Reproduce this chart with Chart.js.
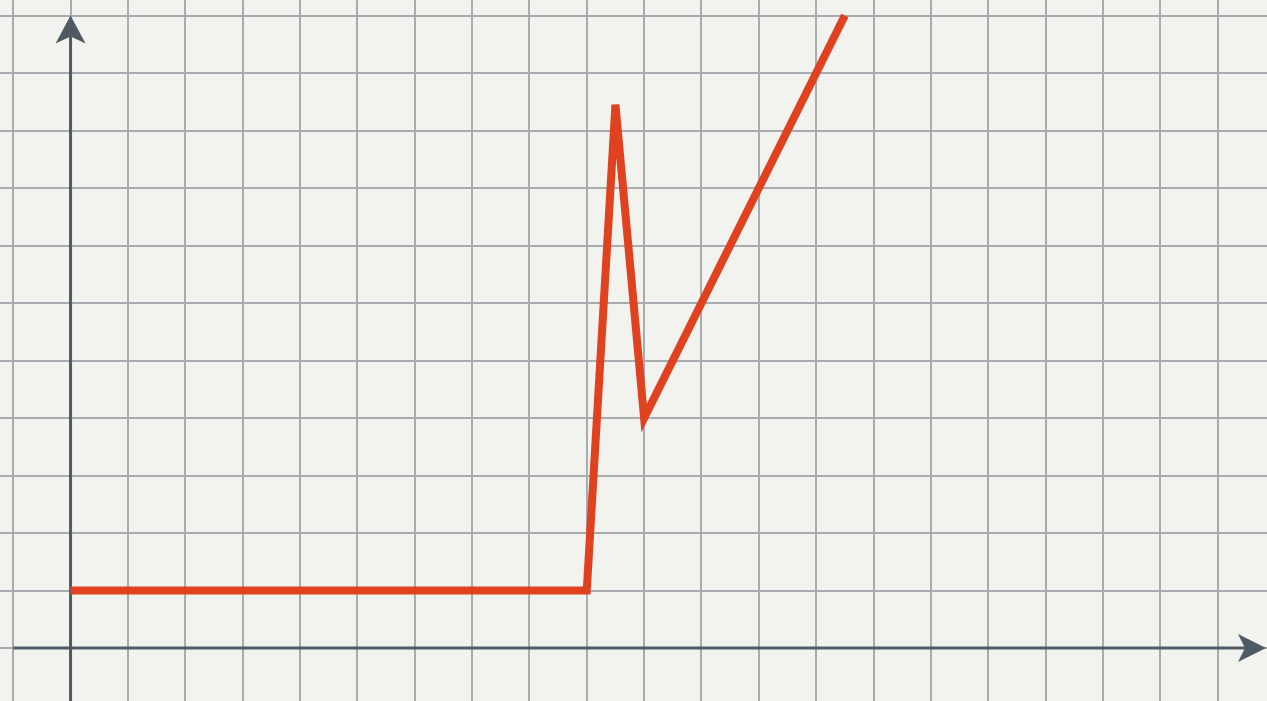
<!DOCTYPE html>
<html>
<head>
<meta charset="utf-8">
<script src="https://cdn.jsdelivr.net/npm/chart.js@4"></script>
<style>
  html, body { margin: 0; padding: 0; background: #f2f3ee; }
  #wrap { width: 1267px; height: 701px; }
</style>
</head>
<body>
<div id="wrap"><canvas id="sketchChart" width="1267" height="701"></canvas></div>
<script>
// grid units: one cell per step
const xs = [0, 9, 9.5, 10, 13.5];
const ys = [1, 1, 9.45, 4, 11];
const xRange = [-1.23, 20.86];
const yRange = [-0.92, 11.27];

const points = xs.map((x, i) => ({ x: x, y: ys[i] }));

// dark axes with arrowheads, drawn under the red line
const axesArrows = {
    id: 'axesArrows',
    beforeDatasetsDraw(chart) {
        const ctx = chart.ctx;
        const sx = chart.scales.x, sy = chart.scales.y;
        const ox = sx.getPixelForValue(0), oy = sy.getPixelForValue(0);
        const left = sx.getPixelForValue(-1);
        const right = chart.chartArea.right - 1;
        const top = sy.getPixelForValue(11);
        const bottom = chart.chartArea.bottom;
        ctx.save();
        ctx.strokeStyle = '#4f5a65';
        ctx.fillStyle = '#4f5a65';
        ctx.lineWidth = 3;
        ctx.beginPath();
        ctx.moveTo(left, oy);
        ctx.lineTo(right - 6, oy);
        ctx.moveTo(ox, bottom);
        ctx.lineTo(ox, top + 6);
        ctx.stroke();
        // up arrow
        ctx.beginPath();
        ctx.moveTo(ox, top);
        ctx.lineTo(ox + 15, top + 28);
        ctx.lineTo(ox, top + 21);
        ctx.lineTo(ox - 15, top + 28);
        ctx.closePath();
        ctx.fill();
        // right arrow
        ctx.beginPath();
        ctx.moveTo(right, oy);
        ctx.lineTo(right - 28, oy - 14);
        ctx.lineTo(right - 21, oy);
        ctx.lineTo(right - 28, oy + 14);
        ctx.closePath();
        ctx.fill();
        ctx.restore();
    }
};

new Chart(document.getElementById('sketchChart'), {
    type: 'scatter',
    data: {
        datasets: [{
            data: points,
            showLine: true,
            borderColor: '#e0411e',
            backgroundColor: '#e0411e',
            borderWidth: 8,
            borderCapStyle: 'butt',
            borderJoinStyle: 'miter',
            pointRadius: 0,
            tension: 0
        }]
    },
    options: {
        responsive: false,
        animation: false,
        layout: { padding: 0 },
        scales: {
            x: {
                type: 'linear',
                min: xRange[0],
                max: xRange[1],
                border: { display: false },
                grid: { color: '#a7acb0', lineWidth: 2, drawTicks: false },
                ticks: { display: false, stepSize: 1, includeBounds: false, autoSkip: false }
            },
            y: {
                type: 'linear',
                min: yRange[0],
                max: yRange[1],
                border: { display: false },
                grid: { color: '#a7acb0', lineWidth: 2, drawTicks: false },
                ticks: { display: false, stepSize: 1, includeBounds: false, autoSkip: false }
            }
        },
        plugins: {
            legend: { display: false },
            tooltip: { enabled: false }
        }
    },
    plugins: [axesArrows]
});
</script>
</body>
</html>
